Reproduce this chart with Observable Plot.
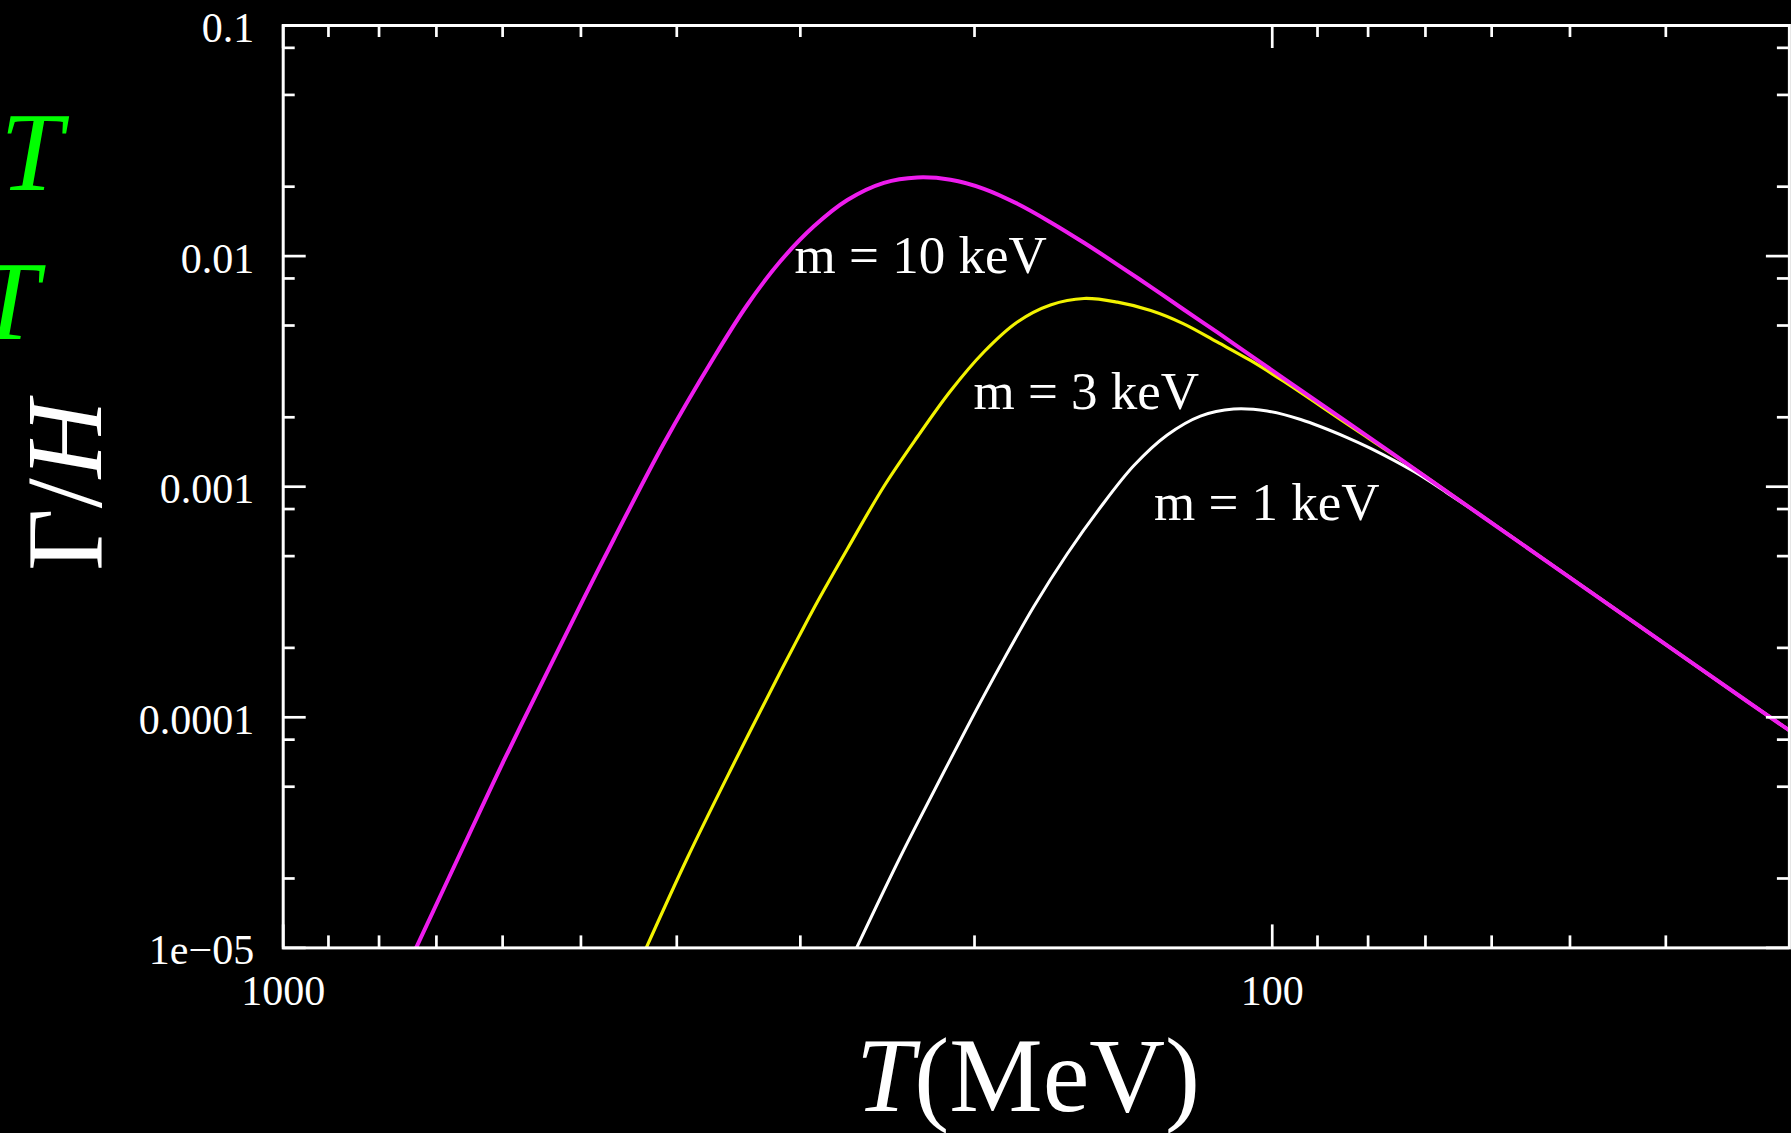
<!DOCTYPE html>
<html>
<head>
<meta charset="utf-8">
<script src="https://cdn.jsdelivr.net/npm/d3@7"></script>
<script src="https://cdn.jsdelivr.net/npm/@observablehq/plot@0.6"></script>
<style>
html, body { margin: 0; padding: 0; background: #000; overflow: hidden; }
#chart svg { display: block; }
</style>
</head>
<body>
<div id="chart"></div>
<script>
// ---- Data (T in MeV, Gamma/H) ----
const temps10 = [733.9, 656.9, 598.2, 538.8, 496.8, 463.3, 412.3, 366.9, 339.5, 314.3, 290.7, 268.9, 247.0, 228.5, 211.5, 195.7, 181.0, 167.6, 155.0, 143.4, 132.7, 122.9, 113.6, 105.2, 97.3, 84.0, 71.9, 61.56, 52.7, 45.13, 38.65, 33.08, 30];
const rates10 = [1e-5, 2.766e-5, 6.497e-5, 1.62e-4, 3.274e-4, 5.902e-4, 1.540e-3, 3.633e-3, 6.136e-3, 9.495e-3, 1.346e-2, 1.751e-2, 2.079e-2, 2.193e-2, 2.143e-2, 1.958e-2, 1.686e-2, 1.403e-2, 1.142e-2, 9.19e-3, 7.36e-3, 5.866e-3, 4.666e-3, 3.711e-3, 2.943e-3, 1.906e-3, 1.198e-3, 7.52e-4, 4.725e-4, 2.969e-4, 1.865e-4, 1.171e-4, 8.77e-5];

const temps3 = [429.5, 390.5, 352.9, 314.3, 299.9, 288.4, 268.9, 247.0, 228.5, 211.5, 195.7, 181.0, 167.6, 155.0, 143.4, 132.7, 122.9, 113.6, 105.2, 97.3, 84.0, 71.9, 61.56, 52.7, 45.13, 38.65, 33.08, 30];
const rates3 = [1e-5, 2.442e-5, 5.908e-5, 1.572e-4, 2.309e-4, 3.162e-4, 5.369e-4, 1.002e-3, 1.642e-3, 2.600e-3, 3.838e-3, 5.178e-3, 6.136e-3, 6.549e-3, 6.312e-3, 5.809e-3, 5.085e-3, 4.232e-3, 3.526e-3, 2.858e-3, 1.870e-3, 1.198e-3, 7.52e-4, 4.725e-4, 2.969e-4, 1.865e-4, 1.171e-4, 8.77e-5];

const temps1 = [263.2, 237.6, 219.9, 203.4, 188.2, 174.2, 161.2, 149.1, 138.0, 127.7, 118.2, 109.4, 101.2, 93.6, 84.0, 79.53, 71.9, 66.55, 61.56, 52.7, 45.13, 38.65, 33.08, 30];
const rates1 = [1e-5, 2.491e-5, 4.766e-5, 9.08e-5, 1.685e-4, 3.023e-4, 5.108e-4, 8.166e-4, 1.235e-3, 1.676e-3, 2.025e-3, 2.172e-3, 2.129e-3, 1.956e-3, 1.634e-3, 1.466e-3, 1.163e-3, 9.40e-4, 7.52e-4, 4.725e-4, 2.969e-4, 1.865e-4, 1.171e-4, 8.77e-5];

const seriesLabels = ["m = 10 keV", "m = 3 keV", "m = 1 keV"];
const labelTemps = [304.1, 200.5, 131.7];
const labelRates = [8.41e-3, 2.183e-3, 7.136e-4];

const xMajorTicks = [1000, 100];
const xTickLabels = ["1000", "100"];
const xMinorTicks = [900, 800, 700, 600, 500, 400, 300, 200, 90, 80, 70, 60, 50, 40];
const yMajorTicks = [0.1, 0.01, 0.001, 0.0001, 0.00001];
const yTickLabels = ["0.1", "0.01", "0.001", "0.0001", "1e\u221205"];
const yMinorTicks = [0.08, 0.05, 0.02, 0.008, 0.005, 0.002, 8e-4, 5e-4, 2e-4, 8e-5, 5e-5, 2e-5];

// ---- Build tables ----
const toRows = (ts, rs) => ts.map((t, i) => ({T: t, G: rs[i]}));
const rows10 = toRows(temps10, rates10);
const rows3 = toRows(temps3, rates3);
const rows1 = toRows(temps1, rates1);
const labelRows = seriesLabels.map((s, i) => ({text: s, T: labelTemps[i], G: labelRates[i]}));

// ---- Layout ----
const W = 1791, H = 1133;
const ML = 282.7, MR = 2.1, MT = 25, MB = 185.6;
const plotW = W - ML - MR, plotH = H - MT - MB;
const majorLen = 23, minorLen = 12;
const serif = "'Liberation Serif', 'Times New Roman', serif";
const tickStyle = {stroke: "white", strokeWidth: 2.7};

const chart = Plot.plot({
  width: W, height: H,
  marginLeft: ML, marginRight: MR, marginTop: MT, marginBottom: MB,
  style: {background: "#000", color: "white", fontFamily: serif, overflow: "hidden"},
  x: {type: "log", domain: [1000, 30], axis: null},
  y: {type: "log", domain: [1e-5, 0.1], axis: null},
  marks: [
    // curves
    Plot.line(rows1, {x: "T", y: "G", stroke: "#ffffff", strokeWidth: 3, curve: "catmull-rom", clip: true}),
    Plot.line(rows3, {x: "T", y: "G", stroke: "#f2f200", strokeWidth: 3.2, curve: "catmull-rom", clip: true}),
    Plot.line(rows10, {x: "T", y: "G", stroke: "#ee1cee", strokeWidth: 4, curve: "catmull-rom", clip: true}),
    // curve labels
    Plot.text(labelRows, {x: "T", y: "G", text: "text", textAnchor: "start", lineAnchor: "bottom", fill: "white", fontSize: 53, fontFamily: serif}),
    // ticks (inward, on all four sides)
    Plot.tickX(xMajorTicks, {x: d => d, insetTop: plotH - majorLen, ...tickStyle}),
    Plot.tickX(xMinorTicks, {x: d => d, insetTop: plotH - minorLen, ...tickStyle}),
    Plot.tickX(xMajorTicks, {x: d => d, insetBottom: plotH - majorLen, ...tickStyle}),
    Plot.tickX(xMinorTicks, {x: d => d, insetBottom: plotH - minorLen, ...tickStyle}),
    Plot.tickY(yMajorTicks, {y: d => d, insetRight: plotW - majorLen, ...tickStyle}),
    Plot.tickY(yMinorTicks, {y: d => d, insetRight: plotW - minorLen, ...tickStyle}),
    Plot.tickY(yMajorTicks, {y: d => d, insetLeft: plotW - majorLen, ...tickStyle}),
    Plot.tickY(yMinorTicks, {y: d => d, insetLeft: plotW - minorLen, ...tickStyle}),
    Plot.frame({stroke: "white", strokeWidth: 3}),
    // tick labels
    Plot.text(yMajorTicks, {y: d => d, text: (d, i) => yTickLabels[i], frameAnchor: "left", textAnchor: "end", dx: -29, dy: 3, fill: "white", fontSize: 42, fontFamily: serif}),
    Plot.text(xMajorTicks, {x: d => d, text: (d, i) => xTickLabels[i], frameAnchor: "bottom", lineAnchor: "top", dy: 27, fill: "white", fontSize: 42, fontFamily: serif}),
    // x-axis title: T(MeV)
    Plot.text(["T"], {text: d => d, frameAnchor: "bottom", textAnchor: "end", lineAnchor: "bottom", dx: -122, dy: 163, fill: "white", fontSize: 105, fontStyle: "italic", fontFamily: serif}),
    Plot.text(["(MeV)"], {text: d => d, frameAnchor: "bottom", textAnchor: "start", lineAnchor: "bottom", dx: -122, dy: 163, fill: "white", fontSize: 105, fontFamily: serif}),
    // y-axis title: Γ/H (rotated)
    Plot.text(["\u0393/"], {text: d => d, frameAnchor: "left", rotate: -90, textAnchor: "end", lineAnchor: "bottom", dx: -182.7, dy: -8.4, fill: "white", fontSize: 108, fontFamily: serif}),
    Plot.text(["H"], {text: d => d, frameAnchor: "left", rotate: -90, textAnchor: "start", lineAnchor: "bottom", dx: -182.7, dy: -8.4, fill: "white", fontSize: 108, fontStyle: "italic", fontFamily: serif}),
    // green T fragments at the left edge (cut off in the original)
    Plot.text(["T"], {text: d => d, frameAnchor: "top-left", textAnchor: "end", lineAnchor: "bottom", dx: -220.7, dy: 164, fill: "#00ff00", fontSize: 112, fontStyle: "italic", fontFamily: serif}),
    Plot.text(["T"], {text: d => d, frameAnchor: "top-left", textAnchor: "end", lineAnchor: "bottom", dx: -244.2, dy: 313, fill: "#00ff00", fontSize: 112, fontStyle: "italic", fontFamily: serif})
  ]
});
document.getElementById("chart").appendChild(chart);
</script>
</body>
</html>
